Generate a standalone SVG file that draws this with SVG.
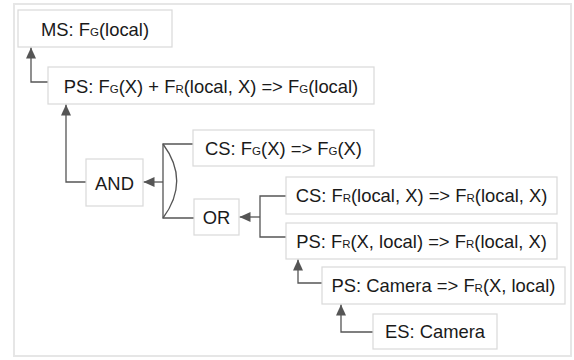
<svg xmlns="http://www.w3.org/2000/svg" width="574" height="360" viewBox="0 0 574 360">
<style>
.box{fill:#fff;stroke:#d9d9d9;stroke-width:1.2}
.t{font-family:"Liberation Sans",Arial,sans-serif;font-size:18.4px;fill:#1a1a1a;text-anchor:middle}
.s{font-size:11.5px}
.c{fill:none;stroke:#555;stroke-width:1.3}
</style>
<defs>
<marker id="ah" markerUnits="userSpaceOnUse" markerWidth="12" markerHeight="10" refX="11" refY="5" orient="auto">
<path d="M0,0 L11,5 L0,10 Z" fill="#555"/>
</marker>
</defs>
<rect x="14" y="4" width="557" height="352" fill="#fff" stroke="#e6e6e6" stroke-width="2"/>
<g id="connectors">
<path class="c" d="M48,82 H31 V47.5" marker-end="url(#ah)"/>
<path class="c" d="M86,182 H66 V104.5" marker-end="url(#ah)"/>
<path class="c" d="M163,182 H143.5" marker-end="url(#ah)"/>
<path class="c" d="M193,144 H163 V218 H194"/>
<path class="c" d="M163,144 Q190.4,181 163,218"/>
<path class="c" d="M260,217 H239.5" marker-end="url(#ah)"/>
<path class="c" d="M286,196 H260 V237 H286"/>
<path class="c" d="M322,283 H298 V259.5" marker-end="url(#ah)"/>
<path class="c" d="M373,332 H341 V304.5" marker-end="url(#ah)"/>
</g>
<g id="ms"><rect class="box" x="18" y="10" width="154" height="37"/><text class="t" x="95" y="36">MS: F<tspan class="s">G</tspan>(local)</text></g>
<g id="ps1"><rect class="box" x="48" y="67" width="326" height="37"/><text class="t" x="211" y="93">PS: F<tspan class="s">G</tspan>(X) + F<tspan class="s">R</tspan>(local, X) =&gt; F<tspan class="s">G</tspan>(local)</text></g>
<g id="and"><rect class="box" x="86" y="159" width="57" height="47"/><text class="t" x="114.5" y="190">AND</text></g>
<g id="cs1"><rect class="box" x="193" y="130" width="181" height="36"/><text class="t" x="283.5" y="155">CS: F<tspan class="s">G</tspan>(X) =&gt; F<tspan class="s">G</tspan>(X)</text></g>
<g id="or"><rect class="box" x="194" y="199" width="45" height="36"/><text class="t" x="216.5" y="224">OR</text></g>
<g id="cs2"><rect class="box" x="286" y="177" width="271" height="37"/><text class="t" x="421.5" y="202">CS: F<tspan class="s">R</tspan>(local, X) =&gt; F<tspan class="s">R</tspan>(local, X)</text></g>
<g id="ps2"><rect class="box" x="286" y="223" width="271" height="36"/><text class="t" x="421.5" y="248">PS: F<tspan class="s">R</tspan>(X, local) =&gt; F<tspan class="s">R</tspan>(local, X)</text></g>
<g id="ps3"><rect class="box" x="322" y="267" width="243" height="37"/><text class="t" x="443.5" y="292">PS: Camera =&gt; F<tspan class="s">R</tspan>(X, local)</text></g>
<g id="es"><rect class="box" x="373" y="314" width="124" height="35"/><text class="t" x="435" y="338">ES: Camera</text></g>
</svg>
